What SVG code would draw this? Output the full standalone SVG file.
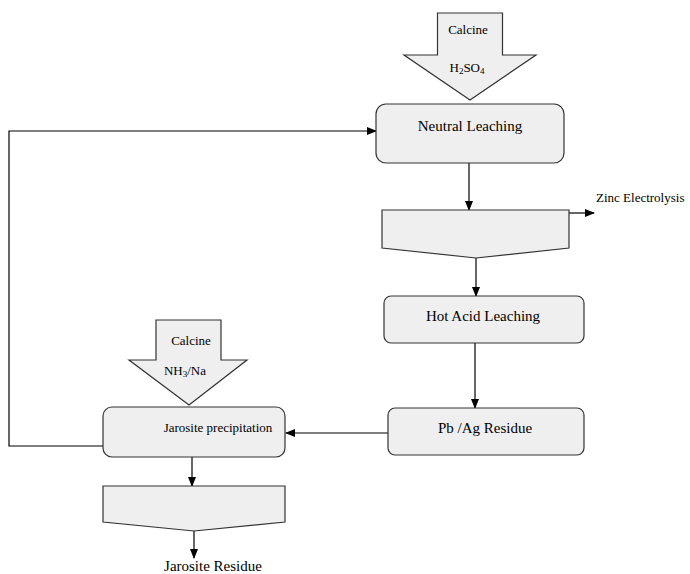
<svg xmlns="http://www.w3.org/2000/svg" width="690" height="574" viewBox="0 0 690 574">
<defs>
<marker id="ah" markerWidth="10" markerHeight="8" refX="9" refY="4" orient="auto" markerUnits="userSpaceOnUse">
<path d="M0,0 L10,4 L0,8 Z" fill="#000"/>
</marker>
<style>
.box{fill:#efefef;stroke:#333;stroke-width:1.2}
.t{font-family:"Liberation Serif","Times New Roman",serif;fill:#000;text-anchor:middle}
.c{stroke:#000;stroke-width:1.2;fill:none}
</style>
</defs>
<rect width="690" height="574" fill="#fff"/>
<g id="connectors">
<line class="c" x1="469" y1="163" x2="469" y2="210" marker-end="url(#ah)"/>
<line class="c" x1="569" y1="213" x2="594" y2="213" marker-end="url(#ah)"/>
<line class="c" x1="476" y1="258" x2="476" y2="296" marker-end="url(#ah)"/>
<line class="c" x1="475" y1="343" x2="475" y2="408" marker-end="url(#ah)"/>
<line class="c" x1="388" y1="433" x2="286" y2="433" marker-end="url(#ah)"/>
<polyline class="c" points="103,446 9,446 9,131 376,131" marker-end="url(#ah)"/>
<line class="c" x1="192" y1="457" x2="192" y2="486" marker-end="url(#ah)"/>
<line class="c" x1="194" y1="531" x2="194" y2="558" marker-end="url(#ah)"/>
</g>
<g id="calcine-h2so4">
<path class="box" d="M437.5,13 L502.5,13 L502.5,55 L536,55 L470,100 L404,55 L437.5,55 Z"/>
<text class="t" x="468" y="34" font-size="13">Calcine</text>
<text class="t" x="467" y="72" font-size="13">H<tspan font-size="9" dy="2">2</tspan><tspan dy="-2">SO</tspan><tspan font-size="9" dy="2">4</tspan></text>
</g>
<g id="neutral-leaching">
<rect class="box" x="376" y="104" width="188" height="59" rx="10"/>
<text class="t" x="470" y="131" font-size="15">Neutral Leaching</text>
</g>
<g id="separator1">
<path class="box" d="M382,210 L569,210 L569,248 L476,258 L382,248 Z"/>
</g>
<g id="zinc-electrolysis">
<text x="596" y="202" font-size="13" font-family="Liberation Serif, Times New Roman, serif">Zinc Electrolysis</text>
</g>
<g id="hot-acid-leaching">
<rect class="box" x="384" y="296" width="200" height="47" rx="7"/>
<text class="t" x="483" y="321" font-size="15">Hot Acid Leaching</text>
</g>
<g id="pb-ag-residue">
<rect class="box" x="388" y="408" width="196" height="47" rx="7"/>
<text class="t" x="485" y="433" font-size="15">Pb /Ag Residue</text>
</g>
<g id="calcine-nh3">
<path class="box" d="M156,320 L221,320 L221,360 L247,360 L189,405 L129,360 L156,360 Z"/>
<text class="t" x="191" y="345" font-size="13">Calcine</text>
<text class="t" x="185" y="375" font-size="13">NH<tspan font-size="9" dy="2">3</tspan><tspan dy="-2">/Na</tspan></text>
</g>
<g id="jarosite-precipitation">
<rect class="box" x="103" y="407" width="182" height="50" rx="9"/>
<text class="t" x="218" y="432" font-size="13">Jarosite precipitation</text>
</g>
<g id="separator2">
<path class="box" d="M103,486 L285,486 L285,522 L194,531 L103,522 Z"/>
</g>
<g id="jarosite-residue">
<text class="t" x="213" y="571" font-size="15">Jarosite Residue</text>
</g>
</svg>
